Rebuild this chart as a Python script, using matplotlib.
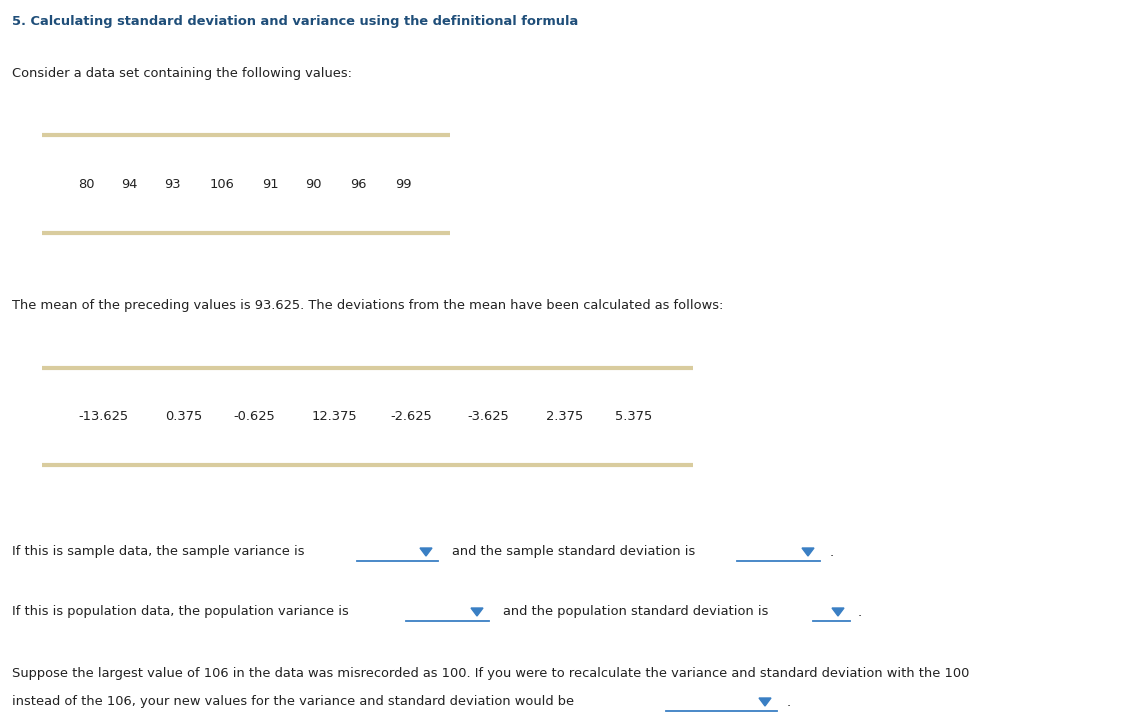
import matplotlib
matplotlib.use("Agg")
import matplotlib.pyplot as plt
plt.rcParams["font.family"] = "DejaVu Sans"

values = ["80", "94", "93", "106", "91", "90", "96", "99"]
deviations = ["-13.625", "0.375", "-0.625", "12.375", "-2.625", "-3.625", "2.375", "5.375"]
mean_text = "93.625"

fig = plt.figure(figsize=(11.26, 7.23), dpi=100)
ax = fig.add_axes([0, 0, 1, 1])
ax.set_xlim(0, 1126); ax.set_ylim(723, 0); ax.axis("off")
fs = 9.4
tc = "#222222"
tan = "#d9cc9e"
blue = "#3a7fc4"

ax.text(12, 21, "5. Calculating standard deviation and variance using the definitional formula",
        fontsize=9.4, fontweight="bold", color="#1f4e79", va="center")
ax.text(12, 73, "Consider a data set containing the following values:", fontsize=fs, color=tc, va="center")

ax.plot([42, 450], [135, 135], color=tan, lw=3, solid_capstyle="butt")
ax.plot([42, 450], [233, 233], color=tan, lw=3, solid_capstyle="butt")
xs = [78, 121, 164, 210, 262, 305, 350, 395]
for x, v in zip(xs, values):
    ax.text(x, 184, v, fontsize=fs, color=tc, va="center")

ax.text(12, 305, f"The mean of the preceding values is {mean_text}. The deviations from the mean have been calculated as follows:",
        fontsize=fs, color=tc, va="center")
ax.plot([42, 693], [368, 368], color=tan, lw=3, solid_capstyle="butt")
ax.plot([42, 693], [465, 465], color=tan, lw=3, solid_capstyle="butt")
xd = [78, 165, 233, 312, 390, 467, 546, 615]
for x, v in zip(xd, deviations):
    ax.text(x, 416, v, fontsize=fs, color=tc, va="center")

def blank(x0, x1, y):
    ax.plot([x0, x1], [y + 9, y + 9], color=blue, lw=1.3)
    tx = x1 - 12
    ax.fill([tx - 6, tx + 6, tx], [y - 4, y - 4, y + 4], color=blue)

y = 552
ax.text(12, y, "If this is sample data, the sample variance is", fontsize=fs, color=tc, va="center")
blank(357, 438, y)
ax.text(452, y, "and the sample standard deviation is", fontsize=fs, color=tc, va="center")
blank(737, 820, y)
ax.text(830, y, ".", fontsize=fs, color=tc, va="center")

y = 612
ax.text(12, y, "If this is population data, the population variance is", fontsize=fs, color=tc, va="center")
blank(406, 489, y)
ax.text(503, y, "and the population standard deviation is", fontsize=fs, color=tc, va="center")
blank(813, 850, y)
ax.text(858, y, ".", fontsize=fs, color=tc, va="center")

ax.text(12, 673, "Suppose the largest value of 106 in the data was misrecorded as 100. If you were to recalculate the variance and standard deviation with the 100",
        fontsize=fs, color=tc, va="center")
y = 702
ax.text(12, y, "instead of the 106, your new values for the variance and standard deviation would be", fontsize=fs, color=tc, va="center")
blank(666, 777, y)
ax.text(787, y, ".", fontsize=fs, color=tc, va="center")

fig.savefig("out.png", dpi=100)
